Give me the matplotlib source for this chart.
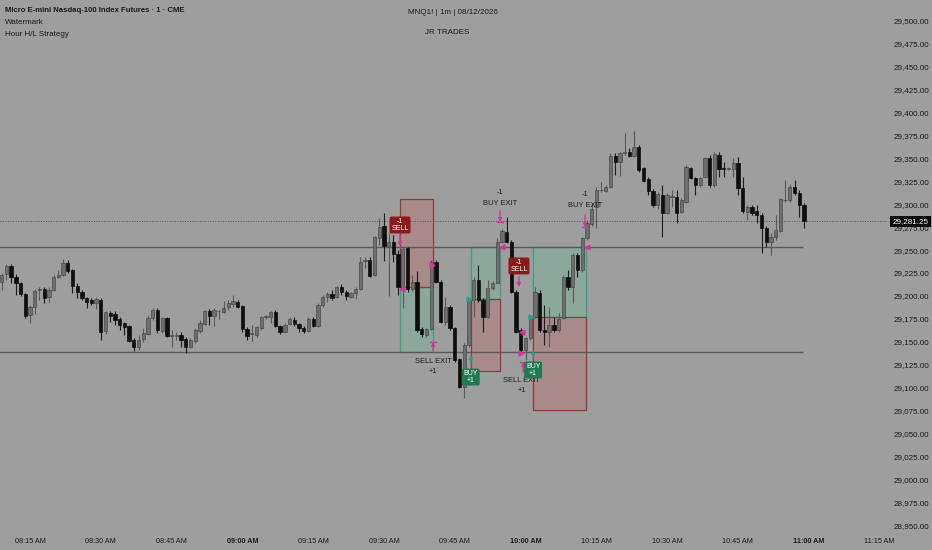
import numpy as np
import matplotlib.pyplot as plt
from matplotlib.patches import Rectangle
from matplotlib.transforms import blended_transform_factory

plt.rcParams['font.family'] = ['Liberation Sans', 'DejaVu Sans']

# 1-minute MNQ bars, first bar at 08:09 (minutes after 08:00)
first_minute = 9

opens = [29215.4, 29223.8, 29232.5, 29220.9, 29214.3, 29201.6, 29179.0, 29188.1, 29206.3, 29208.1,
         29198.3, 29206.3, 29221.2, 29222.7, 29236.2, 29228.2, 29210.7, 29204.5, 29198.0, 29195.4,
         29191.8, 29196.1, 29161.5, 29181.6, 29180.8, 29174.7, 29170.0, 29167.0, 29152.4, 29143.8,
         29152.5, 29158.4, 29175.5, 29184.5, 29162.0, 29175.5, 29156.2, 29156.5, 29157.3, 29152.9,
         29144.5, 29150.7, 29162.0, 29168.9, 29183.8, 29178.0, 29183.1, 29182.7, 29187.5, 29190.7,
         29193.6, 29188.9, 29163.8, 29158.4, 29157.3, 29165.3, 29176.9, 29177.3, 29182.8, 29167.1,
         29160.9, 29169.3, 29173.7, 29169.3, 29164.9, 29162.0, 29174.4, 29167.1, 29190.0, 29198.4,
         29202.0, 29198.4, 29209.3, 29203.9, 29199.1, 29202.8, 29207.1, 29237.7, 29239.1, 29222.8,
         29262.8, 29276.2, 29254.8, 29259.1, 29245.7, 29207.1, 29251.9, 29207.1, 29215.5, 29163.5,
         29157.3, 29163.5, 29237.3, 29215.5, 29171.9, 29188.2, 29164.6, 29130.8, 29100.2, 29146.4,
         29195.5, 29217.3, 29195.5, 29176.6, 29208.2, 29214.4, 29259.1, 29270.0, 29259.1, 29204.6,
         29162.7, 29140.9, 29153.7, 29177.3, 29202.8, 29162.7, 29161.0, 29168.2, 29162.7, 29175.5,
         29220.2, 29209.3, 29244.6, 29228.2, 29262.8, 29279.0, 29297.0, 29315.2, 29314.8, 29319.2,
         29352.6, 29346.4, 29356.3, 29357.4, 29353.0, 29362.1, 29339.2, 29327.2, 29314.4, 29299.2,
         29310.1, 29290.1, 29307.9, 29308.3, 29291.9, 29302.8, 29339.2, 29328.3, 29320.9, 29330.0,
         29350.0, 29320.9, 29353.6, 29339.1, 29338.7, 29338.0, 29344.5, 29317.3, 29291.8, 29297.3,
         29292.5, 29288.2, 29273.6, 29259.1, 29263.8, 29271.1, 29304.2, 29304.7, 29319.2, 29312.6,
         29299.2]
highs = [29224.5, 29234.7, 29234.7, 29223.8, 29215.4, 29203.4, 29190.0, 29208.1, 29209.2, 29209.2,
         29209.2, 29222.7, 29228.2, 29239.8, 29239.1, 29228.9, 29213.6, 29206.3, 29199.0, 29197.2,
         29199.0, 29197.2, 29183.8, 29183.4, 29183.4, 29177.2, 29171.7, 29168.1, 29154.6, 29157.3,
         29164.5, 29179.1, 29187.1, 29186.4, 29177.3, 29176.5, 29162.7, 29160.9, 29160.9, 29154.7,
         29153.6, 29164.5, 29173.6, 29184.5, 29185.3, 29186.4, 29184.5, 29194.7, 29195.4, 29200.9,
         29195.4, 29190.0, 29166.4, 29168.2, 29167.1, 29178.0, 29179.1, 29183.8, 29184.6, 29168.2,
         29170.0, 29177.3, 29177.3, 29170.8, 29167.1, 29177.3, 29177.3, 29191.9, 29200.9, 29204.6,
         29206.4, 29210.8, 29212.9, 29206.4, 29204.6, 29209.3, 29242.8, 29242.0, 29242.0, 29265.3,
         29284.6, 29290.1, 29268.2, 29266.4, 29250.0, 29253.7, 29253.7, 29222.8, 29227.5, 29166.4,
         29164.6, 29239.1, 29239.1, 29217.3, 29199.1, 29190.0, 29166.4, 29131.8, 29148.2, 29197.3,
         29221.0, 29233.7, 29197.3, 29217.3, 29216.6, 29262.8, 29272.6, 29286.4, 29261.0, 29206.4,
         29164.6, 29155.5, 29179.1, 29210.0, 29206.4, 29190.0, 29188.2, 29177.3, 29180.9, 29222.8,
         29228.2, 29246.4, 29246.4, 29264.6, 29282.8, 29301.0, 29319.2, 29324.6, 29321.0, 29355.5,
         29355.5, 29357.4, 29378.1, 29361.0, 29380.3, 29364.6, 29341.0, 29329.3, 29316.3, 29313.7,
         29321.0, 29311.9, 29315.5, 29315.5, 29306.4, 29342.8, 29341.0, 29330.1, 29330.0, 29351.8,
         29353.6, 29357.3, 29357.3, 29346.4, 29340.9, 29350.0, 29351.8, 29330.0, 29299.1, 29299.1,
         29299.1, 29290.0, 29276.2, 29268.2, 29288.2, 29307.4, 29326.4, 29322.0, 29326.4, 29316.0,
         29300.9]
lows = [29207.0, 29217.2, 29214.3, 29200.9, 29199.8, 29175.4, 29170.0, 29180.8, 29196.1, 29191.8,
        29193.6, 29205.6, 29219.1, 29221.6, 29225.2, 29203.4, 29197.2, 29195.4, 29186.3, 29190.0,
        29185.2, 29152.4, 29159.0, 29171.7, 29168.1, 29162.6, 29157.2, 29150.0, 29140.1, 29140.9,
        29150.0, 29157.3, 29173.6, 29159.8, 29159.1, 29155.5, 29144.5, 29151.8, 29144.5, 29138.0,
        29142.7, 29148.9, 29159.8, 29168.2, 29168.2, 29167.1, 29174.4, 29181.6, 29184.5, 29188.2,
        29186.4, 29160.9, 29151.8, 29150.7, 29154.7, 29162.7, 29174.4, 29170.0, 29166.4, 29158.4,
        29159.8, 29168.2, 29167.1, 29160.9, 29159.8, 29160.9, 29166.4, 29165.7, 29187.5, 29193.7,
        29195.5, 29197.3, 29201.0, 29195.5, 29197.3, 29196.2, 29206.4, 29230.0, 29221.0, 29221.7,
        29255.5, 29238.4, 29200.1, 29237.3, 29200.9, 29186.4, 29204.6, 29205.7, 29161.0, 29155.5,
        29155.5, 29162.8, 29214.4, 29170.0, 29168.2, 29162.8, 29128.2, 29099.1, 29088.2, 29144.6,
        29177.3, 29193.7, 29160.9, 29175.5, 29206.4, 29213.7, 29257.3, 29257.3, 29202.8, 29159.1,
        29139.1, 29130.0, 29151.8, 29175.5, 29160.9, 29146.0, 29144.6, 29160.9, 29160.9, 29174.4,
        29206.4, 29191.8, 29220.9, 29226.4, 29261.0, 29276.0, 29273.7, 29313.7, 29313.7, 29317.3,
        29331.9, 29330.8, 29353.7, 29351.9, 29351.2, 29335.5, 29324.6, 29310.1, 29297.3, 29294.4,
        29264.6, 29289.3, 29297.3, 29279.2, 29290.1, 29301.0, 29327.2, 29310.1, 29319.1, 29328.2,
        29319.1, 29319.1, 29329.3, 29329.3, 29337.3, 29330.0, 29310.0, 29290.0, 29282.7, 29288.2,
        29279.1, 29246.3, 29253.6, 29244.5, 29260.9, 29270.0, 29302.7, 29303.0, 29310.0, 29286.4,
        29273.6]
closes = [29222.7, 29232.9, 29220.2, 29213.6, 29202.0, 29178.0, 29188.1, 29205.2, 29207.4, 29197.2,
          29206.3, 29220.9, 29222.3, 29236.2, 29227.1, 29210.7, 29204.5, 29197.2, 29193.6, 29191.8,
          29196.5, 29160.8, 29182.0, 29178.3, 29173.6, 29168.1, 29165.6, 29151.0, 29144.4, 29151.8,
          29159.8, 29176.2, 29184.5, 29162.7, 29175.5, 29156.2, 29156.5, 29156.9, 29151.8, 29143.8,
          29151.8, 29162.7, 29170.0, 29183.5, 29178.0, 29184.5, 29183.8, 29187.1, 29192.5, 29194.4,
          29188.2, 29163.8, 29156.2, 29158.7, 29165.6, 29176.5, 29177.6, 29182.7, 29167.1, 29160.9,
          29168.2, 29174.4, 29169.3, 29164.6, 29162.0, 29175.1, 29167.1, 29190.0, 29198.4, 29202.0,
          29197.3, 29209.3, 29204.6, 29199.9, 29202.8, 29207.5, 29237.3, 29238.8, 29221.7, 29263.9,
          29275.5, 29254.8, 29259.1, 29245.7, 29209.3, 29250.8, 29207.1, 29215.5, 29162.8, 29158.4,
          29163.5, 29237.3, 29215.5, 29171.9, 29188.2, 29164.6, 29130.0, 29100.9, 29146.4, 29195.5,
          29217.3, 29195.5, 29176.6, 29208.2, 29214.4, 29259.1, 29271.1, 29259.1, 29204.6, 29160.9,
          29140.9, 29153.7, 29177.3, 29204.6, 29162.7, 29160.9, 29168.2, 29162.7, 29174.4, 29220.2,
          29209.3, 29244.6, 29228.2, 29262.8, 29279.1, 29295.0, 29315.5, 29315.9, 29319.2, 29352.6,
          29346.4, 29355.5, 29357.0, 29353.0, 29362.1, 29337.3, 29325.7, 29314.8, 29299.2, 29311.2,
          29290.1, 29310.1, 29308.6, 29290.8, 29304.6, 29341.0, 29328.3, 29321.0, 29328.2, 29350.0,
          29320.9, 29354.7, 29338.0, 29338.7, 29339.4, 29344.5, 29317.3, 29292.9, 29297.3, 29290.7,
          29288.2, 29273.6, 29259.1, 29263.8, 29271.8, 29305.3, 29304.9, 29319.2, 29312.0, 29299.2,
          29281.25]

# hour high / low levels
level_prices = [29253.75, 29138.75]
level_end = 178.8

# strategy trades (box spans in minutes after 08:00)
trade_start = [93.4, 108.4, 121.6]
trade_end = [100.4, 114.6, 132.8]
trade_entry = [29209.5, 29196.25, 29177.0]
trade_target = [29138.75, 29253.75, 29253.75]
trade_stop = [29305.75, 29118.5, 29075.5]

last_price = 29281.25

assert len(opens) == len(highs) == len(lows) == len(closes)

bg = '#9e9e9e'
magenta = '#d4349c'
teal = '#2a9d8f'

fig = plt.figure(figsize=(9.32, 5.5), dpi=100, facecolor=bg)
ax = fig.add_axes([0, 20 / 550, 888 / 932, 530 / 550], facecolor=bg)

t = np.arange(len(opens)) + first_minute
o = np.array(opens)
h = np.array(highs)
l = np.array(lows)
c = np.array(closes)
up = c >= o
lo = np.minimum(o, c)
ht = np.maximum(np.abs(c - o), 0.7)

# trade boxes
for s, e, en, tg, st in zip(trade_start, trade_end, trade_entry, trade_target, trade_stop):
    ax.add_patch(Rectangle((s, min(en, tg)), e - s, abs(tg - en), fc='#8ca89c', ec='#3f9a86', lw=0.9, zorder=1))
    ax.add_patch(Rectangle((s, min(en, st)), e - s, abs(st - en), fc='#a88a8a', ec='#8e3b3b', lw=0.9, zorder=1))

for p in level_prices:
    ax.hlines(p, 0, level_end, color='#5a5a5a', lw=1.0, zorder=2)
ax.axhline(last_price, color='#555555', lw=0.7, ls=(0, (1, 1.6)), zorder=2)

# candles
ax.vlines(t[up], l[up], h[up], color='#5a5a5a', lw=0.8, zorder=3)
ax.vlines(t[~up], l[~up], h[~up], color='#1e1e1e', lw=0.8, zorder=3)
ax.bar(t[up], ht[up], bottom=lo[up], width=0.7, color='#6e6e6e', edgecolor='#4a4a4a', lw=0.5, zorder=4)
ax.bar(t[~up], ht[~up], bottom=lo[~up], width=0.7, color='#0e0e0e', edgecolor='#0e0e0e', lw=0.5, zorder=4)


def arrow(x, y0, y1, col):
    ax.annotate('', xy=(x, y1), xytext=(x, y0),
                arrowprops=dict(arrowstyle='-|>', color=col, lw=1.0, mutation_scale=5, shrinkA=0, shrinkB=0),
                zorder=7)


def exit_mark(x, y0, y1):
    arrow(x, y0, y1, magenta)
    ax.plot([x - 0.6, x + 0.6], [y1, y1], color=magenta, lw=1.0, zorder=7)


tag = dict(fontsize=5.4, ha='center', va='center', color='#1b1b1b', zorder=8)

# first short
ax.text(93.4, 29277.4, '-1\nSELL', fontsize=5, ha='center', va='center', color='white', linespacing=0.9,
        bbox=dict(boxstyle='round,pad=0.25', fc='#8b1a1a', ec='none'), zorder=8)
arrow(93.4, 29266.5, 29254.5, magenta)
ax.plot(93.8, 29207.6, marker='<', color=magenta, ms=3.5, zorder=7)
ax.plot(100.2, 29233.7, marker='>', color=magenta, ms=3.5, zorder=7)
exit_mark(100.4, 29139.9, 29149.7)
ax.text(100.4, 29129.0, 'SELL EXIT', **tag)
ax.text(100.4, 29117.0, '+1', **tag)

# first long
ax.text(108.4, 29111.5, 'BUY\n+1', fontsize=5, ha='center', va='center', color='white', linespacing=0.9,
        bbox=dict(boxstyle='round,pad=0.25', fc='#1f7a52', ec='none'), zorder=8)
arrow(108.4, 29123.5, 29135.5, teal)
ax.plot(108.1, 29196.3, marker='>', color=teal, ms=3.5, zorder=7)
ax.text(114.6, 29313.4, '-1', **tag)
ax.text(114.6, 29301.4, 'BUY EXIT', **tag)
exit_mark(114.6, 29292.7, 29280.7)
ax.plot(115.0, 29253.1, marker='<', color=magenta, ms=3.5, zorder=7)

# second short
ax.text(118.6, 29232.7, '-1\nSELL', fontsize=5, ha='center', va='center', color='white', linespacing=0.9,
        bbox=dict(boxstyle='round,pad=0.25', fc='#8b1a1a', ec='none'), zorder=8)
arrow(118.6, 29220.7, 29209.7, magenta)
ax.plot(119.2, 29161.0, marker='<', color=magenta, ms=3.5, zorder=7)
ax.plot(119.0, 29138.0, marker='>', color=magenta, ms=3.5, zorder=7)
exit_mark(119.5, 29117.0, 29127.9)
ax.text(119.2, 29107.5, 'SELL EXIT', **tag)
ax.text(119.2, 29096.6, '+1', **tag)

# second long
ax.text(121.6, 29119.2, 'BUY\n+1', fontsize=5, ha='center', va='center', color='white', linespacing=0.9,
        bbox=dict(boxstyle='round,pad=0.25', fc='#1f7a52', ec='none'), zorder=8)
arrow(121.6, 29130.1, 29141.0, teal)
ax.plot(121.1, 29177.3, marker='>', color=teal, ms=3.5, zorder=7)
ax.text(132.6, 29311.2, '-1', **tag)
ax.text(132.6, 29299.2, 'BUY EXIT', **tag)
exit_mark(132.6, 29288.3, 29275.2)
ax.plot(133.1, 29253.1, marker='<', color=magenta, ms=3.5, zorder=7)

# axes
ax.set_xlim(8.64, 196.8)
ax.set_ylim(28944.6, 29522.9)
for sp in ax.spines.values():
    sp.set_visible(False)

yt = np.arange(28950, 29501, 25)
ax.yaxis.tick_right()
ax.set_yticks(yt)
ax.set_yticklabels([f'{v:,.2f}' for v in yt])
ax.tick_params(axis='y', length=0, pad=4, labelsize=5.8, labelcolor='#1a1a1a')

xt = np.arange(15, 196, 15)
ax.set_xticks(xt)
ax.set_xticklabels([f'{8 + m // 60:02d}:{m % 60:02d} AM' for m in xt])
ax.tick_params(axis='x', length=0, pad=6, labelsize=5.2, labelcolor='#1a1a1a')
for lab, m in zip(ax.get_xticklabels(), xt):
    if m % 60 == 0:
        lab.set_fontweight('bold')

tr = blended_transform_factory(ax.transAxes, ax.transData)
ax.text(1.005, last_price, f'{last_price:,.2f}', transform=tr, ha='left', va='center',
        fontsize=5.8, color='white', clip_on=False, zorder=10,
        bbox=dict(boxstyle='square,pad=0.3', fc='#0a0a0a', ec='none'))

# header texts
fig.text(5 / 932, 1 - 11 / 550, 'Micro E-mini Nasdaq-100 Index Futures · 1 · CME', fontsize=5.6,
         fontweight='bold', color='#1a1a1a', va='center')
fig.text(5 / 932, 1 - 22 / 550, 'Watermark', fontsize=5.8, color='#1a1a1a', va='center')
fig.text(5 / 932, 1 - 34 / 550, 'Hour H/L Strategy', fontsize=5.8, color='#1a1a1a', va='center')
fig.text(453 / 932, 1 - 13 / 550, 'MNQ1! | 1m | 08/12/2026', fontsize=5.8, color='#1a1a1a', ha='center', va='center')
fig.text(447 / 932, 1 - 33 / 550, 'JR TRADES', fontsize=5.8, color='#1a1a1a', ha='center', va='center')

fig.savefig('out.png', dpi=100, facecolor=bg)
